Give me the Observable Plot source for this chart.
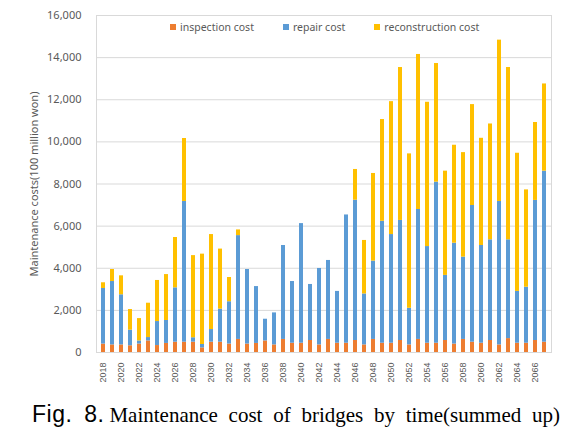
<!DOCTYPE html>
<html>
<head>
<meta charset="utf-8">
<script src="https://cdn.jsdelivr.net/npm/d3@7"></script>
<script src="https://cdn.jsdelivr.net/npm/@observablehq/plot@0.6"></script>
<style>
  html, body { margin: 0; padding: 0; background: #fff; }
  #wrap { position: relative; width: 574px; }
  #legend { position: absolute; left: 170px; top: 20px; display: flex; gap: 29px;
            font-family: "Noto Sans", sans-serif; font-size: 10.5px; color: #595959; }
  #legend .it { display: flex; align-items: center; gap: 4px; }
  #legend .sw { width: 6px; height: 6px; display: inline-block; }
  #caption { width: 574px; height: 38px; white-space: nowrap; padding-left: 32px; box-sizing: border-box; line-height: 38px; }
  #caption .fig { font-family: "Liberation Sans", Arial, sans-serif; font-size: 23px; letter-spacing: 0.5px; word-spacing: 5px; }
  #caption .txt { font-family: "Liberation Serif", "Times New Roman", serif; font-size: 21px; word-spacing: 5.5px; margin-left: 5px; }
</style>
</head>
<body>
<div id="wrap">
  <div id="chart"></div>
  <div id="legend"></div>
</div>
<div id="caption"><span class="fig">Fig. 8.</span><span class="txt">Maintenance cost of bridges by time(summed up)</span></div>
<script>
const years = [2018,2019,2020,2021,2022,2023,2024,2025,2026,2027,2028,2029,2030,2031,2032,2033,2034,2035,2036,2037,2038,2039,2040,2041,2042,2043,2044,2045,2046,2047,2048,2049,2050,2051,2052,2053,2054,2055,2056,2057,2058,2059,2060,2061,2062,2063,2064,2065,2066,2067];
const xTickLabels = [2018,2020,2022,2024,2026,2028,2030,2032,2034,2036,2038,2040,2042,2044,2046,2048,2050,2052,2054,2056,2058,2060,2062,2064,2066];
const yTicks = [0,2000,4000,6000,8000,10000,12000,14000,16000];
const seriesNames = ["inspection cost","repair cost","reconstruction cost"];
const seriesColors = ["#ED7D31","#5B9BD5","#FFC000"];

const inspection = [400,360,360,320,400,550,330,430,490,490,490,220,490,490,400,620,400,430,550,360,620,440,
                    440,570,360,620,440,440,570,360,620,440,440,570,360,620,440,440,570,400,620,490,440,570,360,660,440,440,570,490];
const repair = [2640,3010,2380,740,150,160,1140,1090,2580,6680,210,160,600,1570,2010,4930,3540,2700,1030,1520,4460,2930,
                5680,2660,3630,3750,2460,6090,6660,2420,3720,5790,5160,5700,1740,6170,4590,7650,3090,4790,3910,6490,4640,4780,6810,4690,2460,2660,6650,8120];
const reconstruction = [270,570,900,980,1060,1630,1950,2180,2390,2990,3900,4290,4510,2850,1150,270,0,0,0,0,0,0,
                        0,0,0,0,0,0,1460,2540,4160,4830,6310,7260,7330,7360,6850,5630,4950,4650,4960,4790,5090,5500,7660,8180,6560,4620,3700,4140];

const seriesValues = [inspection, repair, reconstruction];
const data = [];
years.forEach((yr, i) => {
  seriesNames.forEach((s, k) => data.push({year: yr, series: s, value: seriesValues[k][i]}));
});

const chart = Plot.plot({
  width: 574,
  height: 395,
  marginLeft: 96,
  marginRight: 23,
  marginTop: 15,
  marginBottom: 43,
  style: {fontFamily: "Noto Sans, sans-serif", fontSize: "11px", color: "#595959", background: "#fff"},
  x: {type: "band", domain: years, padding: 0.55},
  y: {domain: [0, 16000]},
  color: {domain: seriesNames, range: seriesColors},
  marks: [
    Plot.gridY(yTicks, {stroke: "#d9d9d9", strokeOpacity: 1}),
    Plot.frame({stroke: "#d9d9d9"}),
    Plot.barY(data, {x: "year", y: "value", fill: "series", order: seriesNames}),
    Plot.axisY({ticks: yTicks, tickFormat: d3.format(","), tickSize: 0, tickPadding: 15,
                fontSize: 11, label: "Maintenance costs(100 million won)", labelAnchor: "center",
                labelArrow: "none", labelOffset: 66}),
    Plot.axisX({ticks: xTickLabels, tickFormat: d => String(d), tickRotate: -90, tickSize: 0,
                tickPadding: 10, fontSize: 9, fontFamily: "Liberation Sans, Arial, sans-serif", label: null})
  ]
});
document.getElementById("chart").appendChild(chart);

const legend = document.getElementById("legend");
seriesNames.forEach((s, k) => {
  const it = document.createElement("div");
  it.className = "it";
  const sw = document.createElement("span");
  sw.className = "sw";
  sw.style.background = seriesColors[k];
  const tx = document.createElement("span");
  tx.textContent = s;
  it.appendChild(sw); it.appendChild(tx);
  legend.appendChild(it);
});
</script>
</body>
</html>
